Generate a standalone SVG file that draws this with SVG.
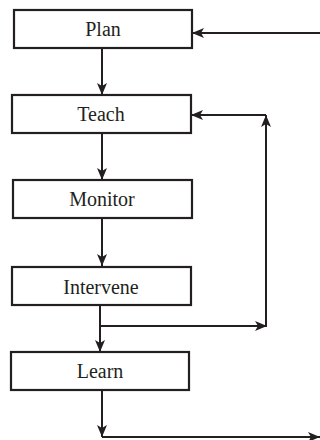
<svg xmlns="http://www.w3.org/2000/svg" width="320" height="440" viewBox="0 0 320 440">
<style>
.box{fill:#fff;stroke:#231f20;stroke-width:2.2}
.lbl{font-family:"Liberation Serif","Times New Roman",serif;font-size:20px;fill:#231f20;text-anchor:middle}
.ln{fill:none;stroke:#231f20;stroke-width:2}
</style>
<defs>
<marker id="ah" viewBox="0 0 12 10" refX="12" refY="5" markerWidth="12" markerHeight="10" markerUnits="userSpaceOnUse" orient="auto">
<path d="M0,0 L12,5 L0,10 L3,5 Z" fill="#231f20"/>
</marker>
</defs>
<rect width="320" height="440" fill="#fff"/>
<g id="connectors">
<line class="ln" x1="102" y1="48" x2="102" y2="95" marker-end="url(#ah)"/>
<line class="ln" x1="102" y1="133" x2="102" y2="180" marker-end="url(#ah)"/>
<line class="ln" x1="102" y1="218" x2="102" y2="266" marker-end="url(#ah)"/>
<line class="ln" x1="100" y1="305" x2="100" y2="352" marker-end="url(#ah)"/>
<line class="ln" x1="100" y1="326" x2="267" y2="326" marker-end="url(#ah)"/>
<line class="ln" x1="266" y1="327" x2="266" y2="115" marker-end="url(#ah)"/>
<line class="ln" x1="266" y1="115" x2="191" y2="115" marker-end="url(#ah)"/>
<line class="ln" x1="320" y1="33" x2="192" y2="33" marker-end="url(#ah)"/>
<line class="ln" x1="102" y1="390" x2="102" y2="437" marker-end="url(#ah)"/>
<line class="ln" x1="102" y1="437" x2="320" y2="437" marker-end="url(#ah)"/>
</g>
<g id="plan"><rect class="box" x="14" y="10" width="178" height="38"/><text class="lbl" x="103" y="36">Plan</text></g>
<g id="teach"><rect class="box" x="12" y="95" width="179" height="38"/><text class="lbl" x="101" y="121">Teach</text></g>
<g id="monitor"><rect class="box" x="13" y="180" width="179" height="38"/><text class="lbl" x="102" y="206">Monitor</text></g>
<g id="intervene"><rect class="box" x="12" y="267" width="179" height="38"/><text class="lbl" x="101" y="294">Intervene</text></g>
<g id="learn"><rect class="box" x="11" y="352" width="178" height="38"/><text class="lbl" x="100" y="378">Learn</text></g>
</svg>
